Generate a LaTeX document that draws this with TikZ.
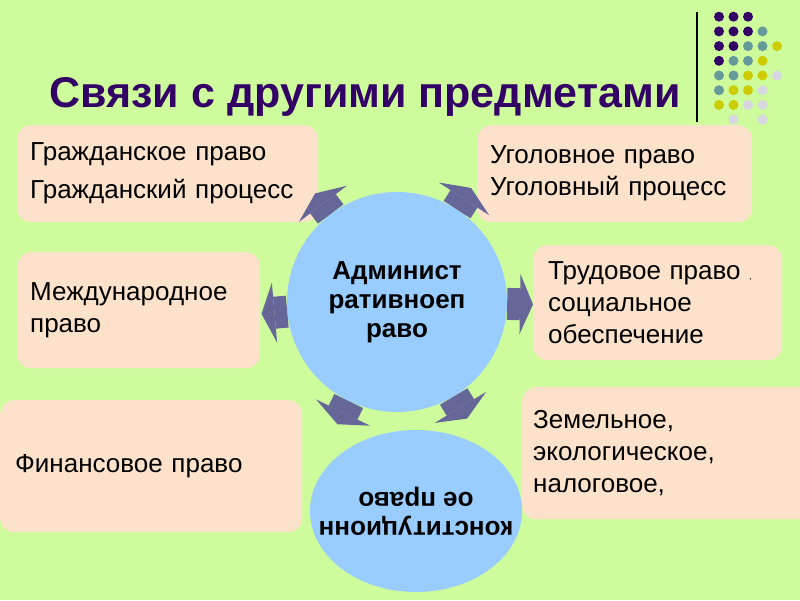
\documentclass[tikz,border=0pt]{standalone}
\usepackage{fontspec}
\setmainfont{Liberation Sans}
\usetikzlibrary{shapes.geometric, arrows.meta}
\definecolor{fon}{RGB}{206,252,156}
\definecolor{pesok}{RGB}{252,226,202}
\definecolor{krug}{RGB}{153,204,255}
\definecolor{strelka}{RGB}{102,102,153}
\definecolor{zagl}{RGB}{51,0,102}
\definecolor{biruza}{RGB}{102,153,153}
\definecolor{zhelt}{RGB}{204,204,0}
\definecolor{sery}{RGB}{215,215,225}

\begin{document}
\begin{tikzpicture}[x=1pt,y=-1pt,
	box/.style={fill=pesok, rounded corners=14pt, anchor=north west, align=left, inner xsep=13pt, inner ysep=0pt, font=\fontsize{26}{32}\selectfont},
	krugtext/.style={fill=krug, inner sep=0pt, align=center, font=\bfseries\fontsize{26}{29}\selectfont},
	link/.style={strelka, line width=32pt, -{Triangle[length=13pt,width=60pt,line width=0pt]}}]

	\clip (0,0) rectangle (800,600);
	\fill [fon] (0,0) rectangle (800,600);%фон

	\node [zagl, font=\bfseries\fontsize{43}{46}\selectfont] (title) at (365,97) {Связи с другими предметами};%заголовок
	\draw [line width=1.2pt] (697,12)--(697,122);%черта
	\foreach \c/\r/\col in {0/0/zagl,1/0/zagl,2/0/zagl,
		0/1/zagl,1/1/zagl,2/1/zagl,3/1/biruza,
		0/2/zagl,1/2/zagl,2/2/biruza,3/2/biruza,4/2/zhelt,
		0/3/zagl,1/3/biruza,2/3/biruza,3/3/zhelt,
		0/4/biruza,1/4/biruza,2/4/zhelt,3/4/zhelt,4/4/sery,
		0/5/biruza,1/5/zhelt,2/5/zhelt,3/5/sery,
		0/6/zhelt,1/6/zhelt,2/6/sery,3/6/sery,
		1/7/sery,3/7/sery}
	\fill [\col] ({719+\c*14.5},{16.7+\r*14.7}) circle [radius=5pt];%точки

	\node [box, text width=275pt, minimum height=97pt] (civ) at (17,125) {Гражданское право\\[6pt]Гражданский процесс};
	\node [box, text width=249pt, minimum height=97pt] (crim) at (477,125) {Уголовное право\\Уголовный процесс};
	\node [box, text width=217pt, minimum height=116pt] (intl) at (17,252) {Международное\\право};
	\node [box, text width=219pt, inner xsep=15pt, minimum height=115pt] (labour) at (533,245) {Трудовое право {\small ,}\\социальное\\обеспечение};
	\node [box, text width=272pt, inner xsep=15pt, minimum height=132pt] (fin) at (0,400) {Финансовое право};
	\node [box, text width=268pt, inner xsep=11pt, minimum height=132pt] (land) at (522,387) {Земельное,\\экологическое,\\налоговое,};

	\node [krugtext, circle, minimum size=220pt] (adm) at (397,302) {Админист\\ративноеп\\раво};%центр
	\node [krugtext, ellipse, inner xsep=-30pt, minimum width=212pt, minimum height=162pt, rotate=180] (konst) at (416,511) {конституционн\\ое право};%перевёрнутый

	% стрелки от центра
	\coordinate (tipciv) at ([shift={(127:136pt)}]adm.center);
	\coordinate (tipcrim) at ([shift={(57:136pt)}]adm.center);
	\coordinate (tipintl) at ([shift={(185:136pt)}]adm.center);
	\coordinate (tiplabour) at ([shift={(-1:136pt)}]adm.center);
	\coordinate (tipfin) at ([shift={(-116:136pt)}]adm.center);
	\coordinate (tipland) at ([shift={(-59:136pt)}]adm.center);
	\draw [link] (adm.127)--(tipciv);
	\draw [link] (adm.57)--(tipcrim);
	\draw [link] (adm.185)--(tipintl);
	\draw [link] (adm.-1)--(tiplabour);
	\draw [link] (adm.-116)--(tipfin);
	\draw [link] (adm.-59)--(tipland);

\end{tikzpicture}
\end{document}
